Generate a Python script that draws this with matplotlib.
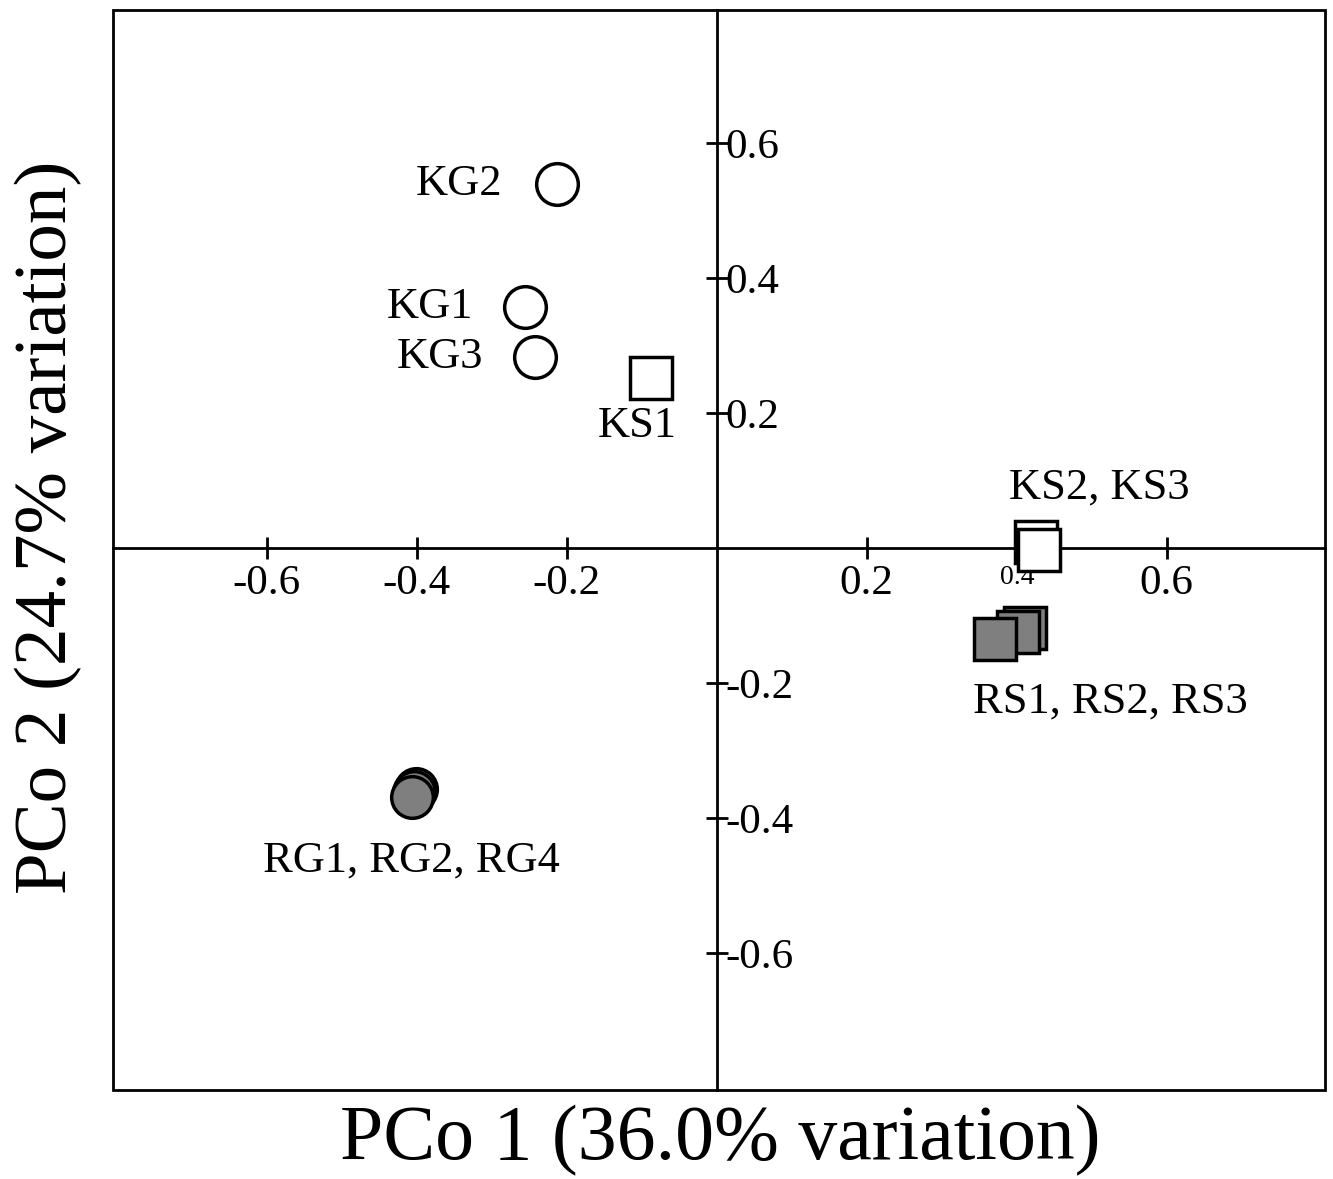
import numpy as np
import matplotlib.pyplot as plt
from matplotlib.patches import Rectangle

plt.rcParams['font.family'] = ['Liberation Serif', 'DejaVu Serif']
plt.rcParams['axes.unicode_minus'] = False

# PCo scores
kg_x = [-0.256, -0.213, -0.243]          # KG1, KG2, KG3 (open circles)
kg_y = [0.357, 0.539, 0.283]
ks_x = [-0.088, 0.425, 0.429]            # KS1, KS2, KS3 (open squares)
ks_y = [0.252, 0.009, -0.003]
rs_x = [0.411, 0.401, 0.371]             # RS3, RS2, RS1 (grey squares)
rs_y = [-0.119, -0.124, -0.135]
rg_x = [-0.401, -0.404, -0.407]          # RG4, RG2, RG1 (grey circles)
rg_y = [-0.357, -0.362, -0.369]

ticks = [-0.6, -0.4, -0.2, 0.2, 0.4, 0.6]

fig = plt.figure(figsize=(13.33, 11.79), dpi=100)
ax = fig.add_axes([0.0848, 0.0755, 0.9092, 0.916])
ax.set_xlim(-0.805, 0.811)
ax.set_ylim(-0.803, 0.797)

# axes through the origin
ax.spines['left'].set_visible(False)
ax.spines['top'].set_visible(False)
ax.spines['bottom'].set_position(('data', 0))
ax.spines['right'].set_position(('data', 0))
for s in ['bottom', 'right']:
    ax.spines[s].set_linewidth(2)
ax.add_patch(Rectangle((0, 0), 1, 1, transform=ax.transAxes, fill=False,
                       lw=2, ec='black', clip_on=False, zorder=1))

ax.yaxis.tick_right()
ax.set_xticks(ticks)
ax.set_yticks(ticks)
ax.set_xticklabels(['%.1f' % t for t in ticks])
ax.set_yticklabels(['%.1f' % t for t in ticks])
ax.tick_params(direction='inout', length=16, width=2, labelsize=31)
ax.tick_params(axis='x', pad=4)
ax.tick_params(axis='y', pad=-2)
# the 0.4 label is squeezed under the KS2/KS3 squares
ax.get_xticklabels()[4].set_fontsize(20)

mk = dict(ms=30, mec='black', mew=2.5, ls='none', zorder=5)
ax.plot(kg_x, kg_y, 'o', mfc='white', **mk)
ax.plot(ks_x, ks_y, 's', mfc='white', **mk)
ax.plot(rs_x, rs_y, 's', mfc='#7f7f7f', **mk)
ax.plot(rg_x, rg_y, 'o', mfc='#7f7f7f', **mk)

fs = 32
lab = dict(textcoords='offset points', fontsize=fs, va='center')
ax.annotate('KG1', (kg_x[0], kg_y[0]), xytext=(-37, 0), ha='right', **lab)
ax.annotate('KG2', (kg_x[1], kg_y[1]), xytext=(-39, 0), ha='right', **lab)
ax.annotate('KG3', (kg_x[2], kg_y[2]), xytext=(-37, 0), ha='right', **lab)
ax.annotate('KS1', (ks_x[0], ks_y[0]), xytext=(-10, -35), ha='center', **lab)
ax.annotate('KS2, KS3', (ks_x[1], ks_y[1]), xytext=(46, 39), ha='center', **lab)
ax.annotate('RS1, RS2, RS3', (rs_x[2], rs_y[2]), xytext=(83, -45), ha='center', **lab)
ax.annotate('RG1, RG2, RG4', (rg_x[2], rg_y[2]), xytext=(0, -46), ha='center', **lab)

fig.text(0.54, 0.033, 'PCo 1 (36.0% variation)', fontsize=56, ha='center', va='center')
fig.text(0.036, 0.553, 'PCo 2 (24.7% variation)', fontsize=54, ha='center',
         va='center', rotation=90)

fig.savefig('out.png', dpi=100)
